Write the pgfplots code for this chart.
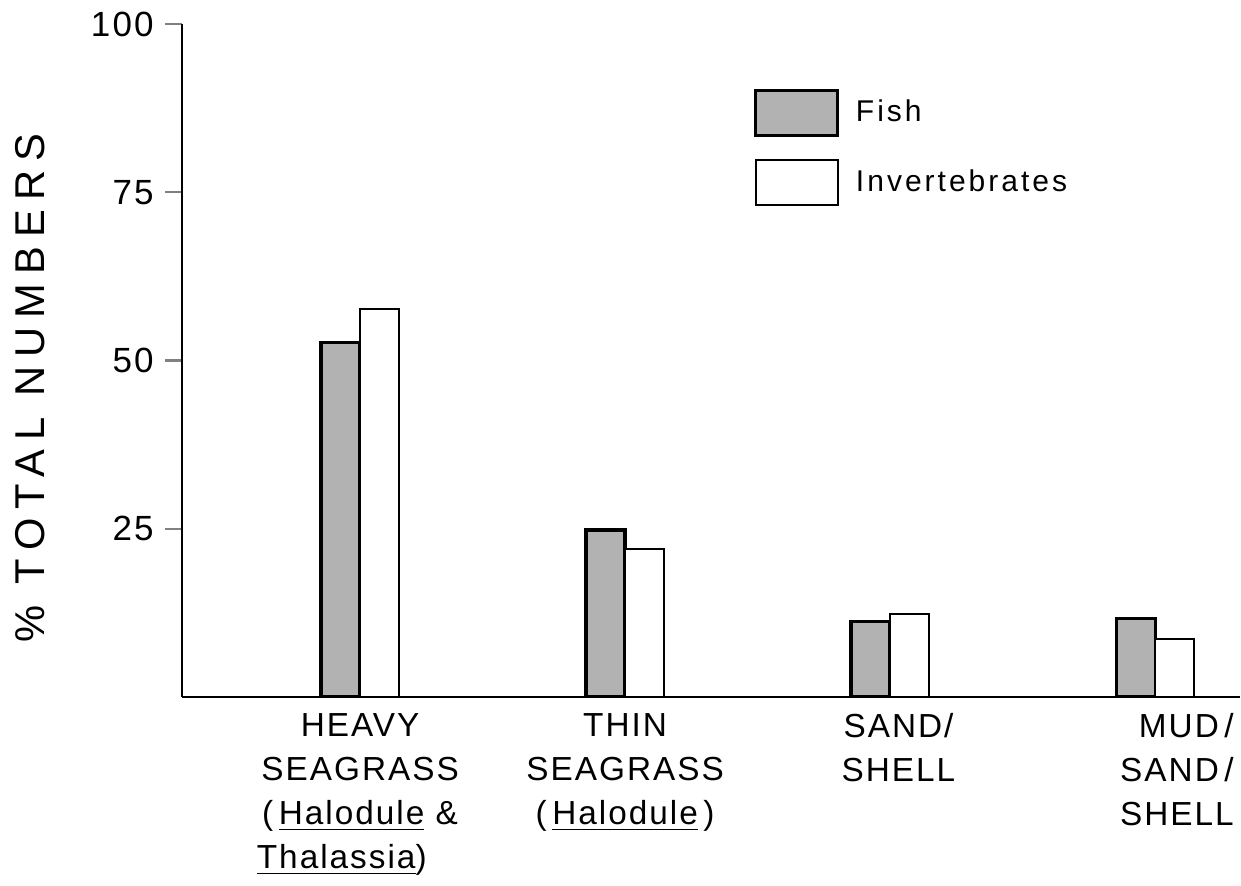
\documentclass[border=0pt]{standalone}
\usepackage{fontspec}
\setmainfont{Liberation Sans}[LetterSpace=6]
\usepackage{pgfplots}
\pgfplotsset{compat=1.18}
\definecolor{fishgray}{gray}{0.70}
\begin{document}
\begin{tikzpicture}
\begin{axis}[
  scale only axis, width=317.4pt, height=201.9pt,
  xmin=0.328, xmax=4.32, ymin=0, ymax=100,
  axis x line=bottom, axis y line=left,
  axis line style={-, line width=0.7pt},
  ytick={25,50,75,100},
  tick align=outside, major tick length=5pt,
  ytick style={line width=0.7pt},
  xtick={1,2,3},
  xtick style={draw=none},
  xticklabels={
    {HEAVY\\SEAGRASS\\(\,\underline{Halodule} \&\\\underline{Thalassia})\hspace*{11pt}},
    {THIN\\SEAGRASS\\(\,\underline{Halodule}\,)},
    {\hspace*{5pt}SAND/\\\hspace*{5pt}SHELL}},
  xticklabel style={font=\fontsize{10}{13.2}\selectfont, align=center, anchor=north, yshift=3.6pt},
  extra x ticks={4},
  extra x tick labels={{MUD\,/\\SAND\,/\\SHELL}},
  extra x tick style={xtick style={draw=none}, xticklabel style={align=right, xshift=6.5pt}},
  /pgf/number format/assume math mode=true,
  yticklabel style={font=\fontsize{10.5}{12}\selectfont},
  ylabel={\% TOTAL NUMBERS},
  ylabel style={at={(axis description cs:-0.1437,0.459)}, anchor=center,
    font=\fontsize{12.5}{14}\selectfont\addfontfeatures{LetterSpace=22}},
  ybar=0pt, bar width=11.7pt,
  legend image code/.code={\draw[#1] (0pt,-6.75pt) rectangle (24.6pt,6.75pt);},
  legend style={draw=none, fill=none, at={(0.54,0.905)}, anchor=north west,
    inner sep=0pt, row sep=6.7pt, nodes={inner sep=1pt},
    font=\fontsize{9}{10}\selectfont\addfontfeatures{LetterSpace=10},
    /tikz/every odd column/.append style={column sep=4pt}},
  legend cell align=left,
]
\addplot[draw=black, line width=1pt, fill=fishgray]
  coordinates {(1,52.7) (2,24.8) (3,11.2) (4,11.7)};
\addlegendentry{Fish}
\addplot[draw=black, line width=0.6pt, fill=white]
  coordinates {(1,57.7) (2,22.0) (3,12.3) (4,8.6)};
\addlegendentry{Invertebrates}
\end{axis}
\pgfresetboundingbox
\path (-54.6pt,-56.4pt) rectangle (317.7pt,209.1pt);
\end{tikzpicture}
\end{document}
